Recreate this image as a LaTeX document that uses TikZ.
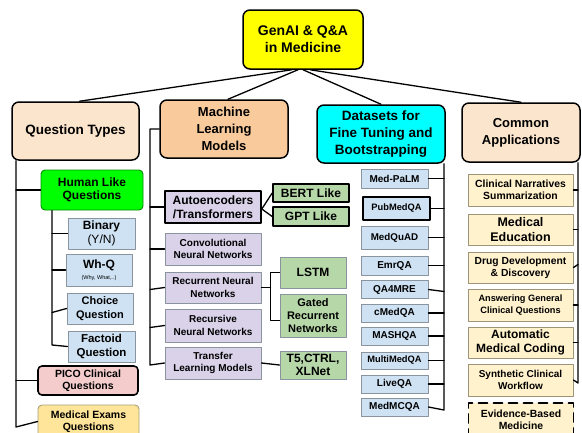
\documentclass[tikz,border=0pt]{standalone}
\usepackage{fontspec}
\setmainfont{Liberation Sans}
\usepackage{xcolor}
\usepackage{tikz}
\definecolor{cYellow}{HTML}{FFFF00}
\definecolor{cPeach}{HTML}{FCE5CD}
\definecolor{cTan}{HTML}{F9CB9C}
\definecolor{cCyan}{HTML}{00FFFF}
\definecolor{cGreen}{HTML}{00FF00}
\definecolor{cBlue}{HTML}{CFE2F3}
\definecolor{cPink}{HTML}{F4CCCC}
\definecolor{cExam}{HTML}{FFE599}
\definecolor{cGold}{HTML}{A89F7A}
\definecolor{cLav}{HTML}{D9D2E9}
\definecolor{cMoss}{HTML}{B6D7A8}
\definecolor{cCream}{HTML}{FFF2CC}
\definecolor{cSand}{HTML}{9E9478}
\definecolor{cEdge}{HTML}{8A949E}
\newcommand{\fsz}[2]{\fontsize{#1}{#2}\selectfont\bfseries}

\begin{document}
\begin{tikzpicture}[x=1pt,y=-1pt,line cap=round,line join=round,
	main/.style={draw,line width=1.5pt,rounded corners=7pt,align=center,inner sep=0pt,font=\fsz{13.5}{16.7}},
	leaf/.style={draw=cEdge,line width=0.9pt,align=center,inner sep=0pt},
	heavy/.style={draw=black,line width=1.6pt},
	dset/.style={leaf,fill=cBlue,minimum width=67,font=\fsz{10}{12}},
	app/.style={leaf,draw=cSand,fill=cCream,minimum width=105},
	link/.style={line width=1.3pt}]
	\useasboundingbox (0,0) rectangle (582,432);
	\clip (0,0) rectangle (582,432);
	\node[main,fill=cYellow,minimum width=120,minimum height=59,font=\fsz{14}{16.7}] (root) at (303,39.5) {GenAI \& Q\&A\\in Medicine};
	\node[main,fill=cPeach,minimum width=127,minimum height=58] (qtypes) at (75.5,131) {Question Types};
	\node[main,fill=cTan,minimum width=128,minimum height=58,font=\fsz{13}{16.7}] (models) at (224,129) {Machine\\Learning\\Models};
	\node[main,fill=cCyan,minimum width=128,minimum height=58] (datasets) at (381,134) {Datasets for\\Fine Tuning and\\Bootstrapping};
	\node[main,fill=cPeach,minimum width=118,minimum height=59,font=\fsz{13}{16.7}] (apps) at (521,132.5) {Common\\Applications};
	\draw[link] ([xshift=-11]root.south) -- ([xshift=4]qtypes.north);
	\draw[link] ([xshift=-5]root.south) -- ([xshift=4]models.north);
	\draw[link] (root.south) -- (datasets.north);
	\draw[link] ([xshift=7]root.south) -- (apps.north);
	\node[leaf,draw=green!55!black,fill=cGreen,rounded corners=4pt,minimum width=102,minimum height=40,font=\fsz{12}{13.3}] (human) at (92,190) {Human Like\\Questions};
	\node[leaf,fill=cBlue,minimum width=67,minimum height=31,font=\fsz{12}{13.3}] (binary) at (101.5,233.5) {Binary\\\mdseries (Y/N)};
	\node[leaf,fill=cBlue,minimum width=66,minimum height=32,font=\fsz{12}{11}] (whq) at (99,270) {Wh-Q\\\fsz{5.5}{6}\mdseries (Why, What,..)};
	\node[leaf,fill=cBlue,minimum width=66,minimum height=31,font=\fsz{11}{13.3}] (choice) at (100,308.5) {Choice\\Question};
	\node[leaf,fill=cBlue,minimum width=67,minimum height=31,font=\fsz{11.5}{13.3}] (factoid) at (101.5,346.5) {Factoid\\Question};
	\node[leaf,heavy,fill=cPink,rounded corners=4pt,minimum width=100,minimum height=29,font=\fsz{10.5}{12.3}] (pico) at (88,380.5) {PICO Clinical\\Questions};
	\node[leaf,draw=cGold,fill=cExam,rounded corners=4pt,minimum width=101,minimum height=33,font=\fsz{10.5}{12.3}] (medexams) at (88.5,421.5) {Medical Exams\\Questions};
	\coordinate (qbot) at (16,427);
	\draw[link] (qtypes.south west -| qbot) -- (qbot) -- (medexams.west);
	\draw[link] (human.west -| qbot) -- (human.west);
	\draw[link] (pico.west -| qbot) -- (pico.west);
	\coordinate (hbot) at (52,345);
	\draw[link] (human.south west -| hbot) -- (hbot) -- (factoid.west);
	\draw[link] (binary.west -| hbot) -- (binary.west);
	\draw[link] (whq.west -| hbot) -- (whq.west);
	\draw[link] ([yshift=-4]choice.west -| hbot) -- (choice.west);
	\node[leaf,heavy,fill=cLav,minimum width=96,minimum height=32,font=\fsz{12}{14}] (autoenc) at (213,207) {Autoencoders\\/Transformers};
	\node[leaf,fill=cLav,minimum width=96,minimum height=32,font=\fsz{10}{12.3}] (conv) at (213,249) {Convolutional\\Neural Networks};
	\node[leaf,fill=cLav,minimum width=96,minimum height=31,font=\fsz{10}{12.3}] (recurrent) at (213,287.5) {Recurrent Neural\\Networks};
	\node[leaf,fill=cLav,minimum width=96,minimum height=33,font=\fsz{10}{12.3}] (recursive) at (213,325.5) {Recursive\\Neural Networks};
	\node[leaf,fill=cLav,minimum width=96,minimum height=32,font=\fsz{10}{12.3}] (transfer) at (213,363) {Transfer\\Learning Models};
	\node[leaf,heavy,fill=cMoss,minimum width=76,minimum height=18,font=\fsz{12}{14}] (bert) at (311,193) {BERT Like};
	\node[leaf,heavy,fill=cMoss,minimum width=76,minimum height=19,font=\fsz{12}{14}] (gpt) at (311,216.5) {GPT Like};
	\node[leaf,fill=cMoss,minimum width=66,minimum height=31,font=\fsz{12}{14}] (lstm) at (313,272.5) {LSTM};
	\node[leaf,fill=cMoss,minimum width=66,minimum height=43,font=\fsz{11}{13.3}] (gated) at (313,315.5) {Gated\\Recurrent\\Networks};
	\node[leaf,fill=cMoss,minimum width=66,minimum height=28,font=\fsz{12}{13.3}] (tfive) at (313,365) {T5,CTRL,\\XLNet};
	\coordinate (mbot) at (150,365);
	\draw[link] (models.west) -| (mbot) -- (transfer.west);
	\draw[link] (autoenc.west -| mbot) -- (autoenc.west);
	\draw[link] (conv.west -| mbot) -- (conv.west);
	\draw[link] ([yshift=-2]recurrent.west -| mbot) -- (recurrent.west);
	\draw[link] ([yshift=-2]recursive.west -| mbot) -- (recursive.west);
	\draw[link] ([yshift=-2]autoenc.east) -- (bert.west);
	\draw[link] ([yshift=-2]autoenc.east) -- (gpt.west);
	\draw[link] (recurrent.east) -- ++(9,0);
	\draw[link] (lstm.west) -| ([xshift=9]recurrent.east) |- ([yshift=-5]gated.west);
	\draw[link] (transfer.east) -- (tfive.west);
	\node[dset,minimum height=19] (medpalm) at (394.5,178.5) {Med-PaLM};
	\node[dset,heavy,minimum height=23,font=\fsz{9.3}{12}] (pubmedqa) at (396.5,208.5) {PubMedQA};
	\node[dset,minimum height=23,font=\fsz{9.8}{12}] (medquad) at (394.5,237.5) {MedQuAD};
	\node[dset,minimum height=19] (emrqa) at (394.5,265.5) {EmrQA};
	\node[dset,minimum height=18] (qafour) at (394.5,289.5) {QA4MRE};
	\node[dset,minimum height=18] (cmedqa) at (394.5,313) {cMedQA};
	\node[dset,minimum height=18] (mashqa) at (394.5,336) {MASHQA};
	\node[dset,minimum height=17,font=\fsz{9.3}{12}] (multimedqa) at (394.5,360.5) {MultiMedQA};
	\node[dset,minimum height=18] (liveqa) at (394.5,384) {LiveQA};
	\node[dset,minimum height=18] (medmcqa) at (394.5,407) {MedMCQA};
	\coordinate (dbot) at (444,410);
	\draw[link] (datasets.south east -| dbot) -- (dbot) -- (medmcqa.east);
	\draw[link] (medpalm.east) -- (medpalm.east -| dbot);
	\draw[link] (pubmedqa.east) -- (pubmedqa.east -| dbot);
	\draw[link] (medquad.east) -- (medquad.east -| dbot);
	\draw[link] (emrqa.east) -- (emrqa.east -| dbot);
	\draw[link] (qafour.east) -- ([yshift=-2]qafour.east -| dbot);
	\draw[link] (cmedqa.east) -- (cmedqa.east -| dbot);
	\draw[link] (mashqa.east) -- (mashqa.east -| dbot);
	\draw[link] (multimedqa.east) -- (multimedqa.east -| dbot);
	\draw[link] (liveqa.east) -- (liveqa.east -| dbot);
	\node[app,minimum height=32,font=\fsz{10.4}{12.3}] (narratives) at (520.5,190) {Clinical Narratives\\Summarization};
	\node[app,minimum height=31,font=\fsz{12.5}{14.7}] (education) at (520.5,229.5) {Medical\\Education};
	\node[app,minimum height=31,font=\fsz{10.3}{12.3}] (drug) at (520.5,267.5) {Drug Development\\\& Discovery};
	\node[app,minimum height=32,font=\fsz{9.2}{11.3}] (answering) at (520.5,305) {Answering General\\Clinical Questions};
	\node[app,minimum height=31,font=\fsz{12}{14.7}] (coding) at (520.5,342.5) {Automatic\\Medical Coding};
	\node[app,minimum height=32,font=\fsz{10}{12.3}] (synthetic) at (520.5,380) {Synthetic Clinical\\Workflow};
	\node[app,heavy,dashed,dash pattern=on 9pt off 6pt,minimum height=34,font=\fsz{10.4}{12.3}] (evidence) at (521,420) {Evidence-Based\\Medicine};
	\coordinate (abot) at (578,383);
	\draw[link] (apps.south east -| abot) -- (abot) -- (synthetic.east);
	\draw[link] (narratives.east) -- (narratives.east -| abot);
	\draw[link] (education.east) -- (education.east -| abot);
	\draw[link] (drug.east) -- ([yshift=3]drug.east -| abot);
	\draw[link] (answering.east) -- (answering.east -| abot);
	\draw[link] (coding.east) -- (coding.east -| abot);
\end{tikzpicture}
\end{document}
